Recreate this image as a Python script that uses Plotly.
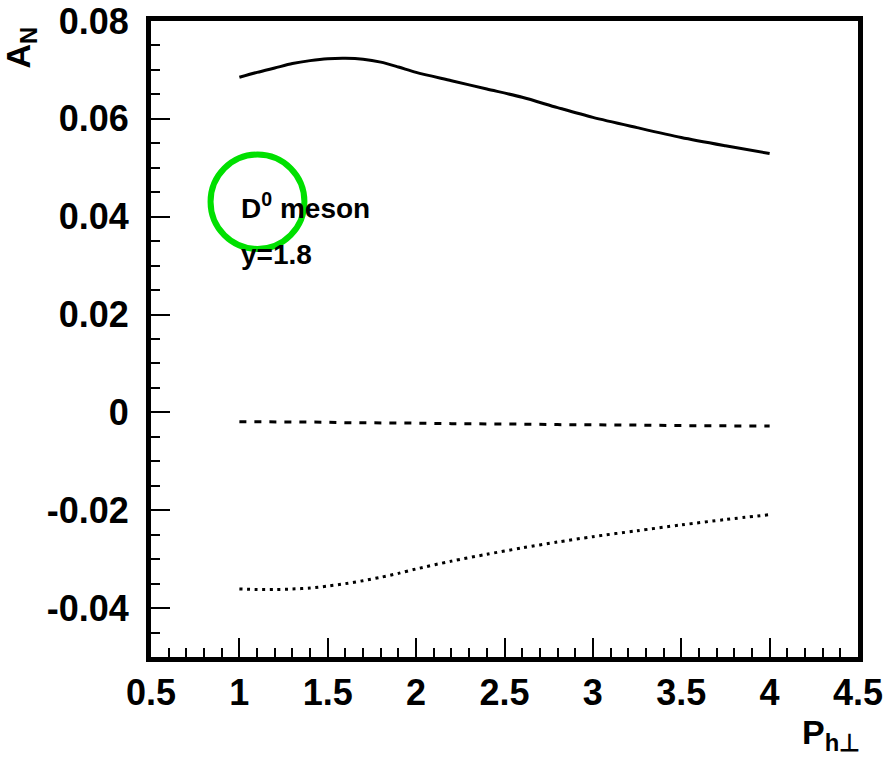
import plotly.graph_objects as go

# Transverse momentum of the D0 meson (GeV)
pt = [1.0, 1.1, 1.2, 1.3, 1.4, 1.5, 1.6, 1.7, 1.8, 1.9, 2.0, 2.2, 2.4, 2.6, 2.8, 3.0,
      3.25, 3.5, 3.75, 4.0]

# Single-spin asymmetry A_N for the three curves
an_solid = [0.0685, 0.0695, 0.0704, 0.0713, 0.0719, 0.0723, 0.0724, 0.0722, 0.0716, 0.0706,
            0.0695, 0.0678, 0.0661, 0.0644, 0.0623, 0.0603, 0.0582, 0.0562, 0.0545, 0.0529]
an_dashed = [-0.0019, -0.0019, -0.0019, -0.0020, -0.0020, -0.0020, -0.0021, -0.0021, -0.0022,
             -0.0022, -0.0022, -0.0023, -0.0023, -0.0024, -0.0025, -0.0025, -0.0026, -0.0027,
             -0.0028, -0.0028]
an_dotted = [-0.0361, -0.0362, -0.0362, -0.0361, -0.0359, -0.0355, -0.0350, -0.0344, -0.0337,
             -0.0329, -0.0320, -0.0304, -0.0290, -0.0277, -0.0265, -0.0254, -0.0242, -0.0230,
             -0.0219, -0.0209]

x_ticks = [0.5, 1, 1.5, 2, 2.5, 3, 3.5, 4, 4.5]
x_tick_text = ["0.5", "1", "1.5", "2", "2.5", "3", "3.5", "4", "4.5"]
y_ticks = [0.08, 0.06, 0.04, 0.02, 0.0, -0.02, -0.04]
y_tick_text = ["0.08", "0.06", "0.04", "0.02", "0", "-0.02", "-0.04"]

FONT = "Liberation Sans"

fig = go.Figure()
fig.add_trace(go.Scatter(x=pt, y=an_solid, mode="lines",
                         line=dict(color="black", width=3, shape="spline", smoothing=0.8),
                         showlegend=False))
fig.add_trace(go.Scatter(x=pt, y=an_dashed, mode="lines",
                         line=dict(color="black", width=3, dash="7px,8px"),
                         showlegend=False))
fig.add_trace(go.Scatter(x=pt, y=an_dotted, mode="lines",
                         line=dict(color="black", width=3, dash="3px,4.6px", shape="spline",
                                   smoothing=0.8),
                         showlegend=False))

axis_common = dict(
    showgrid=False, zeroline=False, showline=True, linecolor="black", linewidth=5,
    mirror=True, ticks="inside", ticklen=19, tickwidth=2, tickcolor="black",
    automargin=False,
    tickfont=dict(family=FONT, size=36, color="black", weight="bold"),
)

fig.update_xaxes(range=[0.5, 4.5], tickvals=x_ticks, ticktext=x_tick_text,
                 minor=dict(dtick=0.1, ticks="inside", ticklen=9, tickwidth=2, tickcolor="black"),
                 ticklabelstandoff=0, **axis_common)
fig.update_yaxes(range=[-0.05, 0.08], tickvals=y_ticks, ticktext=y_tick_text,
                 minor=dict(dtick=0.005, ticks="inside", ticklen=9, tickwidth=2, tickcolor="black"),
                 ticklabelstandoff=10, **axis_common)

fig.add_annotation(xref="paper", yref="paper", x=-0.218, y=0.995, xanchor="left", yanchor="top",
                   text="A<sub>N</sub>", textangle=-90, showarrow=False,
                   font=dict(family=FONT, size=34, color="black", weight="bold"))
fig.add_annotation(xref="paper", yref="paper", x=1.005, y=-0.085, xanchor="right", yanchor="top",
                   text="P<sub>h\u22a5</sub>", showarrow=False,
                   font=dict(family=FONT, size=34, color="black", weight="bold"))
fig.add_annotation(xref="x", yref="y", x=1.0, y=0.0421, xanchor="left", yanchor="middle",
                   text="D<sup>0</sup> meson", showarrow=False,
                   font=dict(family=FONT, size=28, color="black", weight="bold"))
fig.add_annotation(xref="x", yref="y", x=1.0, y=0.0322, xanchor="left", yanchor="middle",
                   text="y=1.8", showarrow=False,
                   font=dict(family=FONT, size=28, color="black", weight="bold"))

# Highlight ring around the particle label
fig.add_shape(type="circle", xref="x", yref="y", x0=0.837, x1=1.368, y0=0.0334, y1=0.0527,
              line=dict(color="#00e000", width=6))

fig.update_layout(
    width=884, height=763,
    margin=dict(l=151, r=26, t=21, b=106),
    paper_bgcolor="white", plot_bgcolor="white",
)

fig.write_html("out.html")
